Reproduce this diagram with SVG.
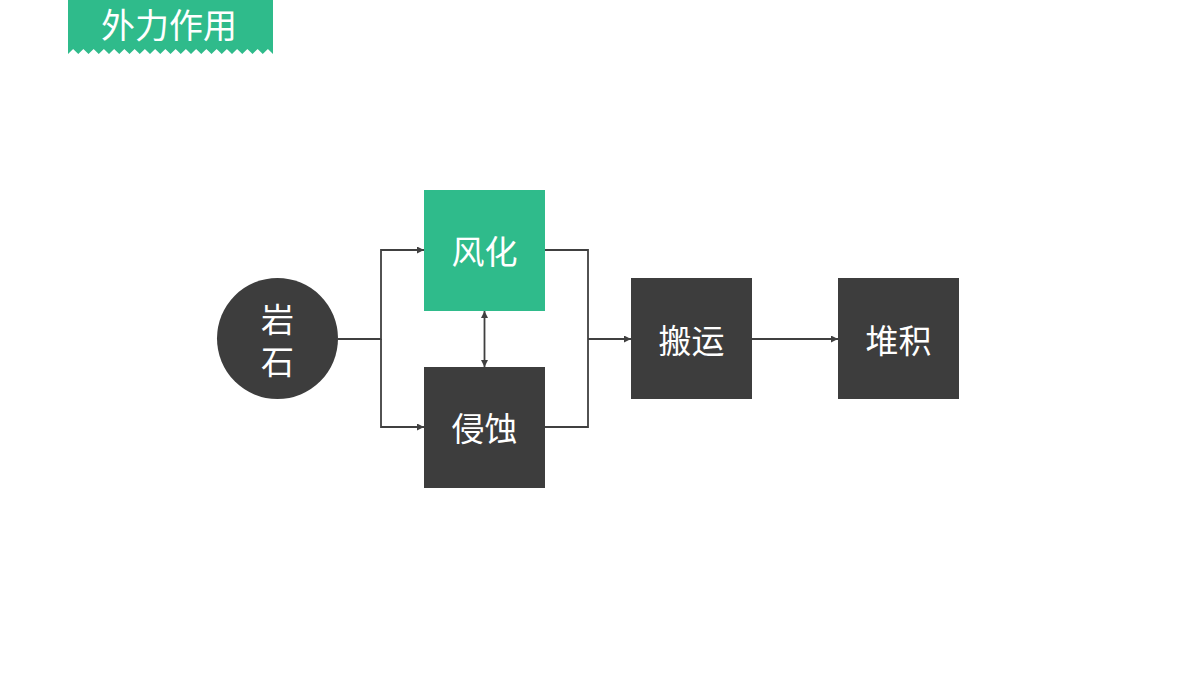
<svg xmlns="http://www.w3.org/2000/svg" width="1200" height="675" viewBox="0 0 1200 675">
<style>
.lbl{font-family:"Microsoft YaHei","Noto Sans CJK SC",sans-serif;font-size:33px;fill:#ffffff;text-anchor:middle;dominant-baseline:central}
.dark{fill:#3d3d3d}
.green{fill:#2fbb8b}
.conn{fill:none;stroke:#404040;stroke-width:1.8}
</style>
<defs>
<marker id="arr" viewBox="0 0 10 10" refX="10" refY="5" markerWidth="8" markerHeight="7" markerUnits="userSpaceOnUse" orient="auto-start-reverse">
<path d="M0,0 L10,5 L0,10 z" fill="#404040"/>
</marker>
</defs>
<rect width="1200" height="675" fill="#ffffff"/>
<g id="title">
<path class="green" d="M68,0 H273 V54 l-5.125,-5 l-5.125,5 l-5.125,-5 l-5.125,5 l-5.125,-5 l-5.125,5 l-5.125,-5 l-5.125,5 l-5.125,-5 l-5.125,5 l-5.125,-5 l-5.125,5 l-5.125,-5 l-5.125,5 l-5.125,-5 l-5.125,5 l-5.125,-5 l-5.125,5 l-5.125,-5 l-5.125,5 l-5.125,-5 l-5.125,5 l-5.125,-5 l-5.125,5 l-5.125,-5 l-5.125,5 l-5.125,-5 l-5.125,5 l-5.125,-5 l-5.125,5 l-5.125,-5 l-5.125,5 l-5.125,-5 l-5.125,5 l-5.125,-5 l-5.125,5 l-5.125,-5 l-5.125,5 l-5.125,-5 l-5.125,5 Z"/>
<text class="lbl" x="169" y="23" style="font-size:34px">外力作用</text>
</g>
<g id="connectors">
<path class="conn" d="M338,339 H381 V250 H424" marker-end="url(#arr)"/>
<path class="conn" d="M381,339 V427 H424" marker-end="url(#arr)"/>
<path class="conn" d="M545,250 H588 V427 H545"/>
<path class="conn" d="M588,339 H631" marker-end="url(#arr)"/>
<path class="conn" d="M484.5,311 V367" marker-start="url(#arr)" marker-end="url(#arr)"/>
<path class="conn" d="M752,339 H838" marker-end="url(#arr)"/>
</g>
<g id="rock">
<circle class="dark" cx="277.5" cy="338.5" r="60.5"/>
<text class="lbl" x="277.5" y="318">岩</text>
<text class="lbl" x="277.5" y="360">石</text>
</g>
<g id="weathering">
<rect class="green" x="424" y="190" width="121" height="121"/>
<text class="lbl" x="484.5" y="250">风化</text>
</g>
<g id="erosion">
<rect class="dark" x="424" y="367" width="121" height="121"/>
<text class="lbl" x="484.5" y="427">侵蚀</text>
</g>
<g id="transport">
<rect class="dark" x="631" y="278" width="121" height="121"/>
<text class="lbl" x="691.5" y="338.5">搬运</text>
</g>
<g id="deposition">
<rect class="dark" x="838" y="278" width="121" height="121"/>
<text class="lbl" x="898.5" y="338.5">堆积</text>
</g>
</svg>
